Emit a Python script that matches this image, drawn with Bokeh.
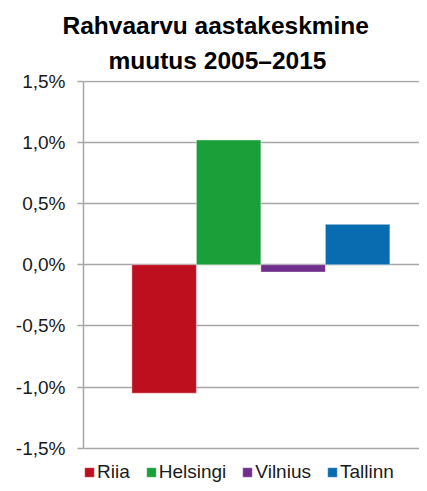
from bokeh.plotting import figure
from bokeh.models import (ColumnDataSource, Range1d, FixedTicker, Title, Legend, LegendItem)
from bokeh.embed import file_html
from bokeh.resources import INLINE

cities = ["Riia", "Helsingi", "Vilnius", "Tallinn"]
values = [-1.05, 1.02, -0.06, 0.33]
colors = ["#be0f1e", "#1ba039", "#702f8a", "#0a6cb0"]
tick_values = [-1.5, -1.0, -0.5, 0.0, 0.5, 1.0, 1.5]
tick_labels = ["-1,5%", "-1,0%", "-0,5%", "0,0%", "0,5%", "1,0%", "1,5%"]
title_lines = ["Rahvaarvu aastakeskmine", "muutus 2005\u20132015"]

FONT = "Liberation Sans"
W, H = 419, 483
left, top = 83, 80
frame_w = W - left
frame_h = H - top
bar_px = 64.5
px_per_unit = 367 / 3.0
y_end = 1.506
y_start = y_end - frame_h / px_per_unit

p = figure(width=W, height=H, output_backend="svg", toolbar_location=None,
           x_axis_location=None,
           x_range=Range1d(0, frame_w / bar_px), y_range=Range1d(y_start, y_end),
           min_border_left=left, min_border_right=0, min_border_top=top,
           min_border_bottom=0)
p.outline_line_color = None
p.background_fill_color = "white"
p.border_fill_color = "white"

xs = [i + 1.25 for i in range(len(cities))]
src = ColumnDataSource(dict(x=xs, top=values, color=colors, name=cities))
r = p.vbar(x="x", top="top", bottom=0, width=1.0, fill_color="color",
           line_color="white", line_alpha=0.4, line_width=1, source=src)

p.xgrid.visible = False
p.yaxis.ticker = FixedTicker(ticks=tick_values)
p.yaxis.bounds = (tick_values[0], tick_values[-1])
p.yaxis.major_label_overrides = {v: l for v, l in zip(tick_values, tick_labels)}
p.yaxis.major_label_text_font = FONT
p.yaxis.major_label_text_font_size = "19px"
p.yaxis.major_label_text_color = "#1a1a1a"
p.yaxis.major_label_standoff = 12
p.yaxis.axis_line_color = "#a6a6a6"
p.yaxis.axis_line_width = 1.5
p.yaxis.major_tick_line_color = "#a6a6a6"
p.yaxis.major_tick_line_width = 1.5
p.yaxis.major_tick_out = 6
p.yaxis.major_tick_in = 0
p.yaxis.minor_tick_line_color = None
p.ygrid.ticker = FixedTicker(ticks=tick_values)
p.ygrid.grid_line_color = "#a6a6a6"
p.ygrid.grid_line_width = 1.5

# titles: bottom line first (closest to frame)
title_offsets = [-21, 25]
title_standoffs = [0, 13]
for text, off, so in reversed(list(zip(title_lines, title_offsets, title_standoffs))):
    p.add_layout(Title(text=text, align="left", offset=off, text_font=FONT,
                       text_font_style="bold", text_font_size="24.5px",
                       text_color="#000000", standoff=so), "above")

items = [LegendItem(label=c, renderers=[r], index=i) for i, c in enumerate(cities)]
legend = Legend(items=items, orientation="horizontal", location=(0, 0),
                padding=0, margin=0, border_line_color=None, background_fill_alpha=0,
                glyph_width=12, glyph_height=12, label_standoff=2, spacing=15,
                label_text_font=FONT, label_text_font_size="19px",
                label_text_color="#1a1a1a", label_height=14)
p.add_layout(legend, "center")

open("out.html", "w").write(file_html(p, INLINE))
